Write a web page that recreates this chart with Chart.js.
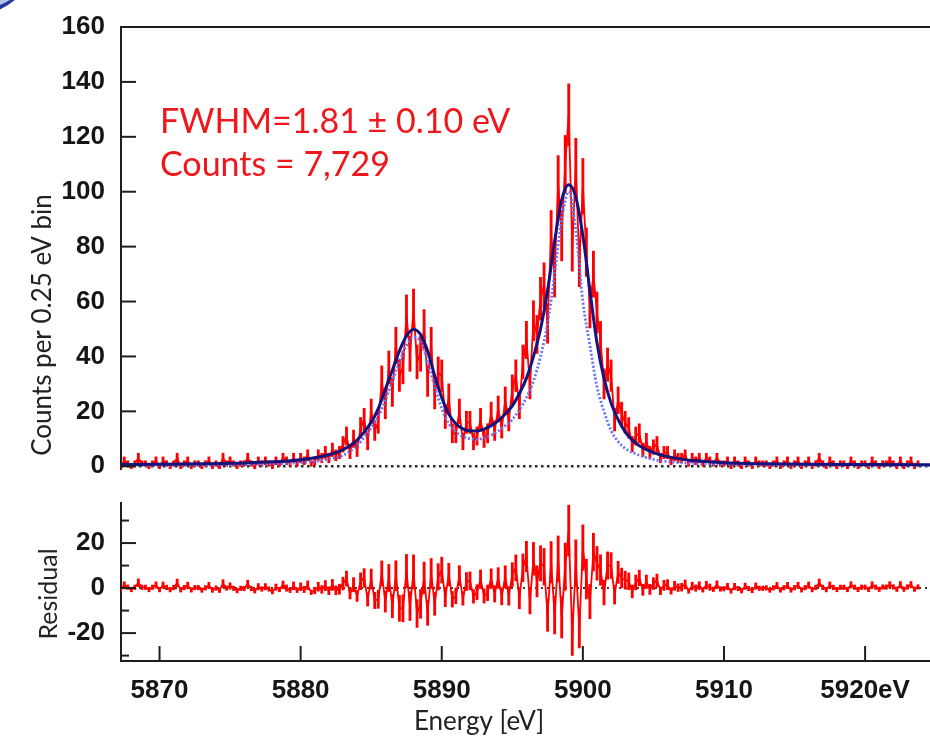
<!DOCTYPE html>
<html>
<head>
<meta charset="utf-8">
<title>Energy spectrum</title>
<script src="https://cdn.jsdelivr.net/npm/chart.js@4.4.1/dist/chart.umd.min.js"></script>
<style>
  html, body { margin: 0; padding: 0; background: #fff; }
  #wrap { position: relative; width: 930px; height: 739px; overflow: hidden; }
  #topChart { position: absolute; left: 0; top: 0; }
  #resChart { position: absolute; left: 0; top: 480px; }
  #swoosh {
    position: absolute; left: -94px; top: -96px; width: 128px; height: 112px;
    box-sizing: border-box; border-radius: 50%;
    background: #b9c2e6; border-bottom: 5px solid #2636a0;
  }
</style>
</head>
<body>
<div id="wrap">
  <canvas id="topChart" width="930" height="480"></canvas>
  <canvas id="resChart" width="930" height="259"></canvas>
  <div id="swoosh"></div>
</div>
<script>
// bins of 0.25 eV, first bin centre at 5867.00 eV
var binStart = 5867.0;
var binWidth = 0.25;

// measured counts per bin (4 bins per eV, one row per eV)
var counts = [
  1, 0, 2, 1,     0, 1, 3, 1,     1, 0, 1, 2,     0, 2, 1, 0,      // 5867-5870
  1, 3, 0, 1,     2, 0, 1, 1,     0, 1, 2, 0,     1, 0, 3, 1,      // 5871-5874
  2, 1, 0, 1,     1, 3, 1, 0,     2, 1, 2, 1,     0, 2, 1, 3,      // 5875-5878
  2, 1, 3, 1,     3, 2, 4, 1,     2, 4, 3, 5,     3, 6, 4, 5,      // 5879-5882
  8, 11, 5, 10,   6, 14, 17, 9,   20, 13, 16, 31, 22, 36, 27, 44,  // 5883-5886
  33, 36, 55, 41, 57, 38, 41, 50, 31, 44, 26, 34, 33, 18, 25, 12,  // 5887-5890
  12, 20, 9, 16,  16, 9, 11, 17,  10, 12, 19, 13, 21, 14, 24, 17,  // 5891-5894
  28, 33, 22, 38, 46, 30, 53, 48, 61, 66, 52, 84, 70, 103, 84, 110, // 5895-5898
  128, 80, 109, 74, 102, 78, 58, 70, 56, 46, 30, 37, 33, 17, 24, 19, // 5899-5902
  16, 14, 8, 11,  12, 6, 9, 5,    7, 8, 3, 5,     5, 2, 4, 3,      // 5903-5906
  3, 4, 1, 3,     2, 3, 1, 3,     2, 1, 3, 1,     1, 2, 0, 2,      // 5907-5910
  1, 0, 2, 1,     0, 2, 1, 1,     1, 0, 1, 2,     0, 1, 2, 0,      // 5911-5914
  1, 2, 0, 1,     2, 0, 1, 3,     1, 0, 2, 1,     0, 1, 1, 0,      // 5915-5918
  2, 1, 0, 1,     1, 0, 2, 1,     0, 1, 1, 2,     1, 0, 2, 0,      // 5919-5922
  1, 2, 0, 1                                                       // 5923
];

// residuals (data - fit), same bins
var residuals = [
  0.4, -0.6, 1.4, 0.4,    -0.65, 0.35, 2.35, 0.35,  0.35, -0.65, 0.35, 1.35,  -0.7, 1.3, 0.3, -0.7,
  0.25, 2.25, -0.75, 0.25, 1.2, -0.8, 0.2, 0.2,     -0.9, 0.1, 1.1, -0.9,     0, -1, 2, 0,
  0.9, -0.1, -1.1, -0.1,  -0.2, 1.8, -0.2, -1.2,    0.6, -0.4, 0.6, -0.4,     -1.6, 0.4, -0.6, 1.4,
  0, -1, 1, -1,           0.6, -0.6, 1.2, -1.9,     -1.1, 0.6, -0.6, 1.1,     -1.2, 1.4, -1, -0.5,
  2, 4.2, -2.6, 1.5,      -3.5, 3, 4.5, -5,         4, -5.5, -5, 6.5,         -6, 4.5, -8, 5.5,
  -9, -9, 7.5, -8,        7.2, -11.3, -7, 4.5,      -11, 6.5, -7, 5,          8, -4, 6, -5,
  -3.5, 5.5, -4.6, 2.9,   3.2, -3.7, -1.8, 3.9,     -3.5, -2.1, 4.2, -2.6,    4.5, -3.7, 5, -3.5,
  6, 9, -4.5, 9,          14, -6, 13, 3,            11, 9.5, -12, 11.5,       -12, 13, -13, 9.5,
  25.5, -21, 11, -18,     18, 4, -6, 16,            11, 8, -2, 10,            10, -3, 7, 4.5,
  3.5, 3, -1.5, 2.5,      4.5, -0.8, 2.8, -0.6,     2, 3.4, -1.2, 1.2,        1.5, -1.3, 1, 0.2,
  0.4, 1.6, -1.3, 0.9,    0, 1.1, -0.8, 1.3,        0.4, -0.55, 1.5, -0.4,    -0.3, 0.7, -1.3, 0.7,
  -0.2, -1.2, 0.8, -0.2,  -1.1, 0.9, -0.1, -0.1,    0.1, -0.9, 0.1, 1.1,      -0.85, 0.15, 1.15, -0.85,
  0.2, 1.2, -0.8, 0.2,    1.3, -0.7, 0.3, 2.3,      0.3, -0.7, 1.3, 0.3,      -0.65, 0.35, 0.35, -0.65,
  1.4, 0.4, -0.6, 0.4,    0.4, -0.6, 1.4, 0.4,      -0.55, 0.45, 0.45, 1.45,  0.5, -0.5, 1.5, -0.5,
  0.5, 1.5, -0.5, 0.5
];

// fitted model (solid navy line)
var fitEnergy = [5867, 5870, 5873, 5876, 5878, 5880, 5881, 5882, 5883, 5884, 5885, 5885.5,
  5886, 5886.5, 5887, 5887.5, 5888, 5888.5, 5889, 5889.5, 5890, 5890.5, 5891, 5891.5,
  5892, 5892.5, 5893, 5893.5, 5894, 5894.5, 5895, 5895.5, 5896, 5896.5, 5897, 5897.5,
  5898, 5898.5, 5899, 5899.5, 5900, 5900.5, 5901, 5901.5, 5902, 5902.5, 5903, 5903.5,
  5904, 5905, 5906, 5907, 5908, 5910, 5913, 5916, 5920, 5925];
var fitCounts = [0.6, 0.7, 0.9, 1.2, 1.6, 2.4, 3.1, 4.2, 6.0, 9.5, 16, 21,
  28, 35, 42, 47.5, 49.8, 48, 42, 33, 25, 19, 15.5, 13.6,
  12.8, 12.8, 13.5, 14.8, 16.5, 19, 22, 26.5, 32, 40, 50, 64,
  82, 97, 102.5, 98, 84, 64, 45, 32, 23, 17, 12.5, 9.5,
  7.5, 5, 3.5, 2.6, 2.0, 1.3, 0.9, 0.7, 0.6, 0.5];

// intrinsic line shape (dotted blue line)
var lineEnergy = [5867, 5872, 5876, 5879, 5881, 5882, 5883, 5884, 5885, 5885.5, 5886, 5886.5,
  5887, 5887.5, 5888, 5888.5, 5889, 5889.5, 5890, 5890.5, 5891, 5891.5, 5892, 5892.5,
  5893, 5893.5, 5894, 5894.5, 5895, 5895.5, 5896, 5896.5, 5897, 5897.5, 5898, 5898.5,
  5899, 5899.5, 5900, 5900.5, 5901, 5901.5, 5902, 5902.5, 5903, 5904, 5905, 5906,
  5908, 5912, 5918, 5925];
var lineCounts = [0.3, 0.4, 0.6, 1.0, 1.8, 2.6, 4.0, 7.5, 14, 18, 24, 31,
  38, 44, 47, 45.5, 38, 29, 21, 15.5, 12.5, 10.8, 10, 9.8,
  10.3, 11.3, 12.8, 14.8, 17, 20.5, 25, 31, 40, 52, 70, 90,
  100, 86, 60, 44, 29, 20, 13, 9, 6.5, 4, 2.5, 1.7,
  1.0, 0.6, 0.4, 0.3];

var countTicks = [0, 20, 40, 60, 80, 100, 120, 140, 160];
var residualTicks = [-20, 0, 20];
var residualMinorTicks = [-30, -10, 10, 30];
var energyTicks = [5870, 5880, 5890, 5900, 5910, 5920];
var energyMin = 5867.27;
var energyMax = 5924.6;

var energies = counts.map(function (c, i) { return binStart + i * binWidth; });

var tickFont = { family: 'Liberation Sans', weight: 'bold', size: 26 };
var axisColor = '#1e1e1e';

// tick marks pointing into the plot, like the original figure
var innerTicks = {
  id: 'innerTicks',
  afterDraw: function (chart, args, opts) {
    var ctx = chart.ctx, a = chart.chartArea;
    var ys = chart.scales.y, xs = chart.scales.x;
    ctx.save();
    ctx.strokeStyle = axisColor;
    ctx.lineWidth = 2;
    (opts.y || []).forEach(function (v) {
      var p = ys.getPixelForValue(v);
      ctx.beginPath(); ctx.moveTo(a.left, p); ctx.lineTo(a.left + 15, p); ctx.stroke();
    });
    (opts.yMinor || []).forEach(function (v) {
      var p = ys.getPixelForValue(v);
      ctx.beginPath(); ctx.moveTo(a.left, p); ctx.lineTo(a.left + 8, p); ctx.stroke();
    });
    (opts.x || []).forEach(function (v) {
      var p = xs.getPixelForValue(v);
      ctx.beginPath(); ctx.moveTo(p, a.bottom); ctx.lineTo(p, a.bottom - 15); ctx.stroke();
    });
    ctx.restore();
  }
};

// free text (axis titles placed like the original, annotation)
var texts = {
  id: 'texts',
  afterDraw: function (chart, args, opts) {
    var ctx = chart.ctx;
    (opts.items || []).forEach(function (t) {
      ctx.save();
      ctx.font = t.font;
      ctx.fillStyle = t.color;
      ctx.textAlign = t.align || 'left';
      ctx.textBaseline = t.baseline || 'alphabetic';
      ctx.translate(t.x, t.y);
      if (t.rotate) ctx.rotate(t.rotate);
      ctx.fillText(t.text, 0, 0);
      ctx.restore();
    });
  }
};

function errorBars(values) {
  return energies.map(function (e, i) {
    var err = Math.sqrt(Math.max(counts[i], 1));
    return { x: e, y: [values[i] - err, values[i] + err] };
  });
}

function pairs(xs, ys) {
  return xs.map(function (x, i) { return { x: x, y: ys[i] }; });
}

var zeroLine = [{ x: energyMin, y: 0 }, { x: energyMax, y: 0 }];

// ---------- upper panel: spectrum ----------
new Chart(document.getElementById('topChart'), {
  type: 'line',
  data: {
    datasets: [
      {
        label: 'Fit',
        data: pairs(fitEnergy, fitCounts),
        borderColor: '#14147e',
        borderWidth: 3,
        pointRadius: 0,
        cubicInterpolationMode: 'monotone',
        order: 0
      },
      {
        label: 'Line shape',
        data: pairs(lineEnergy, lineCounts),
        borderColor: '#6573f7',
        borderWidth: 2.8,
        borderDash: [2, 2],
        pointRadius: 0,
        cubicInterpolationMode: 'monotone',
        order: 1
      },
      {
        label: 'Data',
        data: pairs(energies, counts),
        borderColor: '#ff0000',
        borderWidth: 1.8,
        pointRadius: 0,
        order: 2
      },
      {
        type: 'bar',
        label: 'Error',
        data: errorBars(counts),
        backgroundColor: '#ff0000',
        barThickness: 2.2,
        order: 3
      },
      {
        label: 'Zero',
        data: zeroLine,
        borderColor: '#2b2b2b',
        borderWidth: 2.5,
        borderDash: [2.5, 3.5],
        pointRadius: 0,
        order: 4
      }
    ]
  },
  options: {
    responsive: false,
    animation: false,
    layout: { padding: { top: 27, right: 0, bottom: 11, left: 0 } },
    scales: {
      x: {
        type: 'linear',
        position: 'top',
        min: energyMin,
        max: energyMax,
        offset: false,
        ticks: { display: false },
        grid: { display: false },
        border: { display: true, color: axisColor, width: 2 },
        afterFit: function (s) { s.height = 0; }
      },
      y: {
        min: -1,
        max: 160,
        afterBuildTicks: function (s) { s.ticks = countTicks.map(function (v) { return { value: v }; }); },
        ticks: { font: tickFont, color: '#151515', padding: 8 },
        grid: { display: false },
        border: { display: true, color: axisColor, width: 2 },
        afterFit: function (s) { s.width = 121; s.paddingTop = 0; s.paddingBottom = 0; }
      }
    },
    plugins: {
      legend: { display: false },
      tooltip: { enabled: false },
      innerTicks: { y: countTicks },
      texts: {
        items: [
          { text: 'Counts per 0.25 eV bin', x: 43, y: 325, rotate: -Math.PI / 2,
            align: 'center', baseline: 'middle', font: '26px Lato', color: '#222' },
          { text: 'FWHM=1.81 \u00b1 0.10 eV', x: 160, y: 133, font: '34px Lato', color: '#f0171c' },
          { text: 'Counts = 7,729', x: 160, y: 176, font: '34px Lato', color: '#f0171c' }
        ]
      }
    }
  },
  plugins: [innerTicks, texts]
});

// ---------- lower panel: residuals ----------
new Chart(document.getElementById('resChart'), {
  type: 'line',
  data: {
    datasets: [
      {
        label: 'Residual',
        data: pairs(energies, residuals),
        borderColor: '#ff0000',
        borderWidth: 1.8,
        pointRadius: 0,
        order: 0
      },
      {
        type: 'bar',
        label: 'Error',
        data: errorBars(residuals),
        backgroundColor: '#ff0000',
        barThickness: 2.2,
        order: 1
      },
      {
        label: 'Zero',
        data: zeroLine,
        borderColor: '#3a3a3a',
        borderWidth: 2,
        borderDash: [2, 4],
        pointRadius: 0,
        order: 2
      }
    ]
  },
  options: {
    responsive: false,
    animation: false,
    layout: { padding: { top: 23, right: 0, bottom: 0, left: 0 } },
    scales: {
      x: {
        type: 'linear',
        min: energyMin,
        max: energyMax,
        offset: false,
        afterBuildTicks: function (s) { s.ticks = energyTicks.map(function (v) { return { value: v }; }); },
        ticks: {
          font: tickFont,
          color: '#151515',
          padding: 6,
          maxRotation: 0,
          callback: function (v) { return v === 5920 ? '5920eV' : String(v); }
        },
        grid: { display: false },
        border: { display: true, color: axisColor, width: 2 },
        afterFit: function (s) { s.height = 78; s.paddingLeft = 0; s.paddingRight = 0; }
      },
      y: {
        min: -32.4,
        max: 37.8,
        afterBuildTicks: function (s) { s.ticks = residualTicks.map(function (v) { return { value: v }; }); },
        ticks: { font: tickFont, color: '#151515', padding: 8 },
        grid: { display: false },
        border: { display: true, color: axisColor, width: 2 },
        afterFit: function (s) { s.width = 121; s.paddingTop = 0; s.paddingBottom = 0; }
      }
    },
    plugins: {
      legend: { display: false },
      tooltip: { enabled: false },
      innerTicks: { y: residualTicks, yMinor: residualMinorTicks, x: energyTicks },
      texts: {
        items: [
          { text: 'Residual', x: 49, y: 114, rotate: -Math.PI / 2,
            align: 'center', baseline: 'middle', font: '25px Lato', color: '#222' },
          { text: 'Energy [eV]', x: 479, y: 242, align: 'center', baseline: 'middle',
            font: '26px Lato', color: '#222' }
        ]
      }
    }
  },
  plugins: [innerTicks, texts]
});
</script>
</body>
</html>
